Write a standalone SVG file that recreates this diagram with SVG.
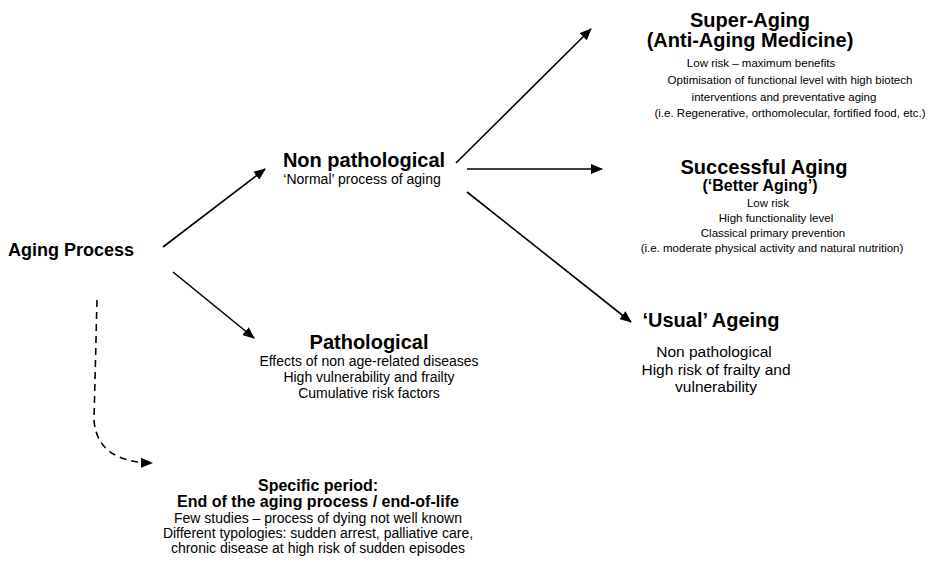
<svg xmlns="http://www.w3.org/2000/svg" width="931" height="568" viewBox="0 0 931 568">
<style>
text { font-family: "Liberation Sans", Arial, sans-serif; fill: #000; }
.t { font-weight: bold; font-size: 20px; text-anchor: middle; }
.b16 { font-weight: bold; font-size: 16px; text-anchor: middle; }
.s { font-size: 11.5px; text-anchor: middle; }
.m { font-size: 14px; text-anchor: middle; }
.u { font-size: 15.5px; text-anchor: middle; }
.c { stroke: #000; stroke-width: 1.6; fill: none; }
</style>
<defs>
<marker id="ah" viewBox="0 0 12 10" refX="11" refY="5" markerWidth="12" markerHeight="10" markerUnits="userSpaceOnUse" orient="auto">
<path d="M0,0 L12,5 L0,10 z" fill="#000"/>
</marker>
</defs>
<rect width="931" height="568" fill="#fff"/>
<g id="connectors">
<line class="c" x1="163" y1="247" x2="265" y2="169" marker-end="url(#ah)"/>
<line class="c" x1="173" y1="272" x2="254" y2="338" marker-end="url(#ah)"/>
<line class="c" x1="456" y1="163" x2="591" y2="29" marker-end="url(#ah)"/>
<line class="c" x1="467" y1="169" x2="602" y2="169" marker-end="url(#ah)"/>
<line class="c" x1="467" y1="192" x2="631" y2="322" marker-end="url(#ah)"/>
<path class="c" d="M97,300 L94,420 Q97,462 152,463" stroke-dasharray="7,5" marker-end="url(#ah)"/>
</g>
<g id="aging-process">
<text x="8" y="256" font-weight="bold" font-size="18">Aging Process</text>
</g>
<g id="non-pathological">
<text class="t" x="364" y="167">Non pathological</text>
<text class="m" x="362" y="184" font-size="13.5">‘Normal’  process of aging</text>
</g>
<g id="pathological">
<text class="t" x="369" y="349">Pathological</text>
<text class="m" x="369" y="366">Effects of non age-related diseases</text>
<text class="m" x="369" y="382">High vulnerability and frailty</text>
<text class="m" x="369" y="398">Cumulative risk factors</text>
</g>
<g id="super-aging">
<text class="t" x="750" y="27">Super-Aging</text>
<text class="t" x="750" y="47">(Anti-Aging Medicine)</text>
<text class="s" x="761" y="67">Low risk – maximum benefits</text>
<text class="s" x="790" y="84">Optimisation of functional level with high biotech</text>
<text class="s" x="784" y="101">interventions and preventative aging</text>
<text class="s" x="790" y="117">(i.e. Regenerative, orthomolecular, fortified food, etc.)</text>
</g>
<g id="successful-aging">
<text class="t" x="764" y="174">Successful Aging</text>
<text class="b16" x="760" y="191" font-size="13.5">(‘Better Aging’)</text>
<text class="s" x="768" y="207">Low risk</text>
<text class="s" x="776" y="222">High functionality level</text>
<text class="s" x="773" y="237">Classical primary prevention</text>
<text class="s" x="772" y="252">(i.e. moderate physical activity and natural nutrition)</text>
</g>
<g id="usual-ageing">
<text class="t" x="711" y="327">‘Usual’ Ageing</text>
<text class="u" x="714" y="357">Non pathological</text>
<text class="u" x="716" y="375">High risk of frailty and</text>
<text class="u" x="716" y="392">vulnerability</text>
</g>
<g id="end-of-life">
<text class="b16" x="318" y="491" font-size="15.5">Specific period:</text>
<text class="b16" x="318" y="507">End of the aging process / end-of-life</text>
<text class="m" x="318" y="523" font-size="13.5">Few studies – process of dying not well known</text>
<text class="m" x="318" y="538" font-size="13.5">Different typologies: sudden arrest, palliative care,</text>
<text class="m" x="318" y="553" font-size="13.5">chronic disease at high risk of sudden episodes</text>
</g>
</svg>
